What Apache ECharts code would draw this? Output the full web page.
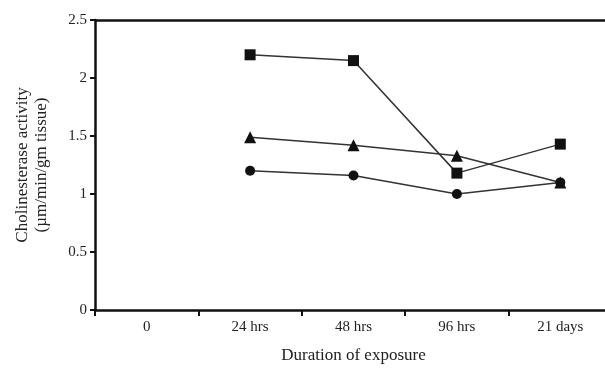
<!DOCTYPE html>
<html><head><meta charset="utf-8">
<script src="https://cdn.jsdelivr.net/npm/echarts@6/dist/echarts.min.js"></script>
<style>html,body{margin:0;padding:0;background:#fff;overflow:hidden}#c{width:612px;height:369px}</style>
</head><body><div id="c"></div>
<script>
const categories = ['0', '24 hrs', '48 hrs', '96 hrs', '21 days'];
const squareValues = [null, 2.2, 2.15, 1.18, 1.43];
const triangleValues = [null, 1.49, 1.42, 1.33, 1.10];
const circleValues = [null, 1.20, 1.16, 1.00, 1.10];
const yTicks = [0, 0.5, 1, 1.5, 2, 2.5];

const font = '"Liberation Serif", "Times New Roman", serif';
const chart = echarts.init(document.getElementById('c'));
function mk(name, data, symbol, size) {
  return {
    name, type: 'line', data, symbol, symbolSize: size, connectNulls: false,
    lineStyle: { color: '#333', width: 1.5 },
    itemStyle: { color: '#111' },
    animation: false
  };
}
chart.setOption({
  animation: false,
  grid: { left: 95, right: 0, top: 20, bottom: 57 },
  xAxis: {
    type: 'category', data: categories, boundaryGap: true,
    name: 'Duration of exposure', nameLocation: 'middle', nameGap: 37,
    nameTextStyle: { fontFamily: font, fontSize: 17, color: '#222' },
    axisLine: { lineStyle: { color: '#111', width: 2.5 } },
    axisTick: { show: true, length: 6, lineStyle: { color: '#111', width: 2 } },
    axisLabel: { fontFamily: font, fontSize: 15, color: '#222', margin: 10 }
  },
  yAxis: {
    type: 'value', min: yTicks[0], max: yTicks[yTicks.length - 1], interval: 0.5,
    name: 'Cholinesterase activity\n(µm/min/gm tissue)', nameLocation: 'middle', nameGap: 44,
    nameTextStyle: { fontFamily: font, fontSize: 17, color: '#222', lineHeight: 19 },
    axisLine: { show: true, lineStyle: { color: '#111', width: 2.5 } },
    axisTick: { show: true, length: 5, lineStyle: { color: '#111', width: 2 } },
    axisLabel: { fontFamily: font, fontSize: 15, color: '#222', margin: 8 },
    splitLine: { show: false }
  },
  series: [
    mk('square', squareValues, 'rect', 11),
    mk('triangle', triangleValues, 'triangle', 12),
    mk('circle', circleValues, 'circle', 10),
    {
      type: 'line', data: [], markLine: {
        silent: true, symbol: 'none', label: { show: false },
        lineStyle: { color: '#111', width: 2.5, type: 'solid' },
        data: [{ yAxis: 2.5 }]
      }
    }
  ]
});
</script></body></html>
